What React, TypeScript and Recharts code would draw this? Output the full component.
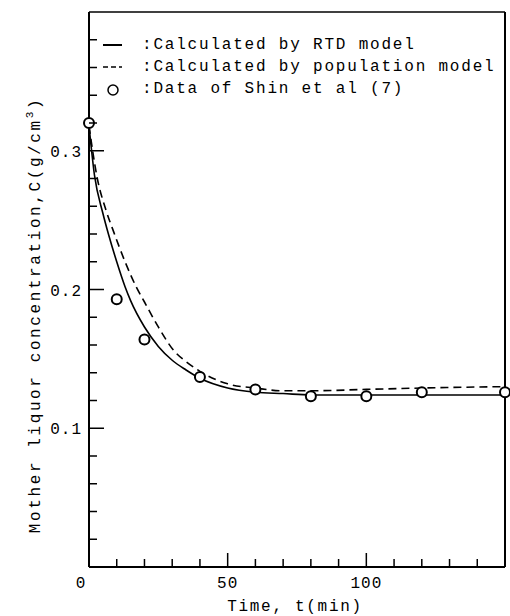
import React from 'react';
import { ComposedChart, Line, Scatter, XAxis, YAxis } from 'recharts';

// RTD model curve (solid)
const rtdTime = [0, 2, 5, 7, 10, 13, 15, 20, 25, 30, 35, 40, 50, 60, 70, 80, 100, 120, 150];
const rtdConc = [0.318, 0.282, 0.255, 0.24, 0.22, 0.202, 0.192, 0.173, 0.159, 0.149, 0.142, 0.136, 0.129, 0.126, 0.125, 0.124, 0.124, 0.124, 0.124];

// population model curve (dashed)
const popTime = [0, 3, 6, 9, 13, 17, 20, 25, 31, 35, 40, 50, 60, 70, 80, 100, 120, 150];
const popConc = [0.318, 0.28, 0.258, 0.241, 0.22, 0.202, 0.191, 0.173, 0.155, 0.148, 0.141, 0.132, 0.129, 0.127, 0.127, 0.128, 0.129, 0.13];

// Shin et al. measured data
const shinTime = [0, 10, 20, 40, 60, 80, 100, 120, 150];
const shinConc = [0.32, 0.193, 0.164, 0.137, 0.128, 0.123, 0.123, 0.126, 0.126];

const xTicks = [0, 10, 20, 30, 40, 50, 60, 70, 80, 90, 100, 110, 120, 130, 140];
const xLabels = [0, 50, 100];
const yTicks = [0.02, 0.04, 0.06, 0.08, 0.1, 0.12, 0.14, 0.16, 0.18, 0.2, 0.22, 0.24, 0.26, 0.28, 0.3, 0.32, 0.34, 0.36, 0.38];
const yLabels = ['0.1', '0.2', '0.3'];

const rtdData = rtdTime.map((t, i) => ({ t, c: rtdConc[i] }));
const popData = popTime.map((t, i) => ({ t, c: popConc[i] }));
const shinData = shinTime.map((t, i) => ({ t, c: shinConc[i] }));

const FONT = "'Liberation Mono', 'DejaVu Sans Mono', monospace";

const XTick = (props: any) => {
  const { x, y, payload } = props;
  const v = payload.value;
  const labelled = xLabels.includes(v);
  return (
    <g>
      <line x1={x} x2={x} y1={y} y2={y - (labelled ? 14 : 8)} stroke="#000" strokeWidth={1.5} />
      {labelled && (
        <text x={v === 0 ? x - 8 : x} y={y + 21} textAnchor="middle" fontSize={16} letterSpacing={1} fill="#000" fontFamily={FONT}>
          {v}
        </text>
      )}
    </g>
  );
};

const YTick = (props: any) => {
  const { x, y, payload } = props;
  const s = Number(payload.value).toFixed(1);
  const labelled = yLabels.includes(s) && Math.abs(Number(payload.value) - Number(s)) < 1e-6;
  return (
    <g>
      <line x1={x} x2={x + (labelled ? 15 : 8)} y1={y} y2={y} stroke="#000" strokeWidth={1.5} />
      {labelled && (
        <text x={x - 7} y={y + 6} textAnchor="end" fontSize={16} letterSpacing={1} fill="#000" fontFamily={FONT}>
          {s}
        </text>
      )}
    </g>
  );
};

const Dot = (props: any) => {
  const { cx, cy } = props;
  return <circle cx={cx} cy={cy} r={5} fill="#fff" stroke="#000" strokeWidth={2} />;
};

const LegendBox = () => {
  const row = { display: 'flex', alignItems: 'center', height: 22 } as const;
  return (
    <div style={{ position: 'absolute', left: 98, top: 34, fontFamily: FONT, fontSize: 16, letterSpacing: 1.8, color: '#000', whiteSpace: 'nowrap', lineHeight: '22px' }}>
      <div style={row}>
        <svg width={44} height={22}><line x1={5} x2={24} y1={11} y2={11} stroke="#000" strokeWidth={2} /></svg>
        <span>:Calculated by RTD model</span>
      </div>
      <div style={row}>
        <svg width={44} height={22}><line x1={5} x2={24} y1={11} y2={11} stroke="#000" strokeWidth={1.5} strokeDasharray="5 3" /></svg>
        <span>:Calculated by population model</span>
      </div>
      <div style={row}>
        <svg width={44} height={22}><circle cx={15} cy={12} r={5} fill="#fff" stroke="#000" strokeWidth={1.5} /></svg>
        <span>:Data of Shin et al (7)</span>
      </div>
    </div>
  );
};

const XTitle = () => (
  <text x={295} y={611} textAnchor="middle" fontSize={16} letterSpacing={1.7} fill="#000" fontFamily={FONT}>
    Time, t(min)
  </text>
);

const YTitle = () => (
  <text x={40} y={315} transform="rotate(-90 40 315)" textAnchor="middle" fontSize={16} letterSpacing={2.6} fill="#000" fontFamily={FONT}>
    Mother liquor concentration,C(g/cm
    <tspan dy={-7} fontSize={11}>3</tspan>
    <tspan dy={7}>)</tspan>
  </text>
);

export default function App() {
  return (
    <div style={{ position: 'absolute', left: 0, top: 0, width: 510, height: 616, background: '#fff', fontFamily: FONT }}>
      <ComposedChart width={510} height={616} margin={{ top: 11, right: 4, bottom: 48, left: 0 }}>
        <XAxis
          dataKey="t"
          type="number"
          domain={[0, 150]}
          ticks={xTicks}
          height={1}
          tickSize={0}
          tickMargin={0}
          tick={<XTick />}
          interval={0}
          axisLine={{ stroke: '#000', strokeWidth: 2 }}
          label={{ content: () => <XTitle /> }}
        />
        <XAxis xAxisId="top" orientation="top" type="number" domain={[0, 150]} height={1} tick={false} tickLine={false} axisLine={{ stroke: '#000', strokeWidth: 1.5 }} />
        <YAxis
          type="number"
          domain={[0, 0.4]}
          ticks={yTicks}
          width={89}
          tickSize={0}
          tickMargin={0}
          tick={<YTick />}
          interval={0}
          axisLine={{ stroke: '#000', strokeWidth: 2 }}
          label={{ content: () => <YTitle /> }}
        />
        <YAxis yAxisId="right" orientation="right" type="number" domain={[0, 0.4]} width={1} tick={false} tickLine={false} axisLine={{ stroke: '#000', strokeWidth: 2 }} />
        <Line data={rtdData} dataKey="c" name="RTD model" type="monotone" stroke="#000" strokeWidth={1.6} dot={false} isAnimationActive={false} />
        <Line data={popData} dataKey="c" name="Population model" type="monotone" stroke="#000" strokeWidth={1.6} strokeDasharray="8 5" dot={false} isAnimationActive={false} />
        <Scatter data={shinData} dataKey="c" name="Shin et al" shape={<Dot />} isAnimationActive={false} />
      </ComposedChart>
      <LegendBox />
    </div>
  );
}
